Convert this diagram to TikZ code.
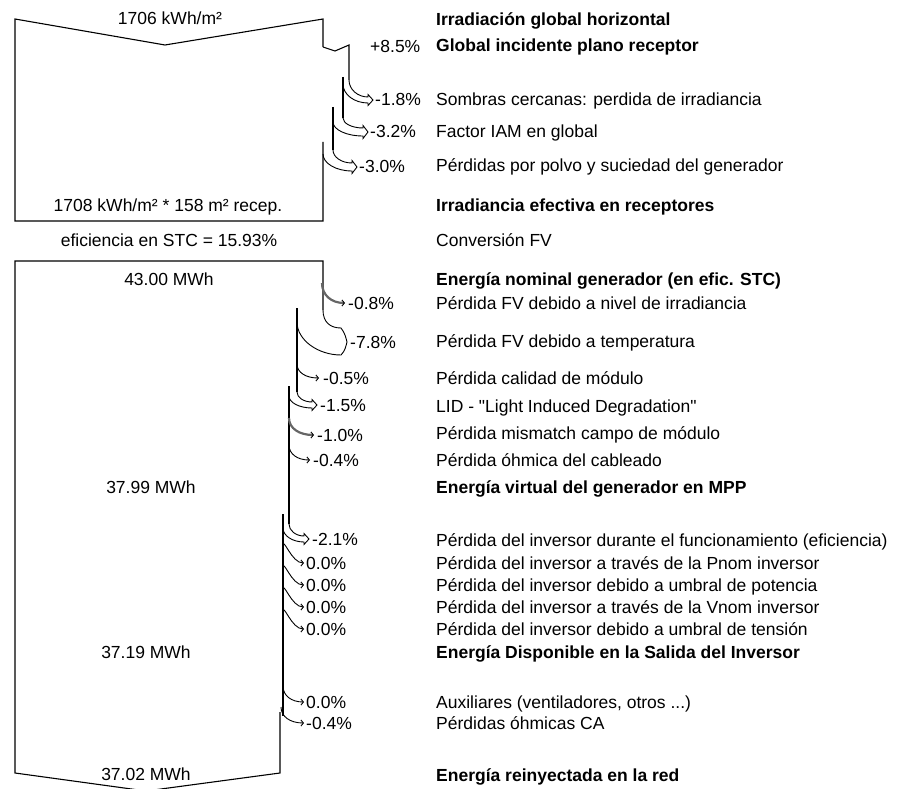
\documentclass[tikz,border=0pt]{standalone}
\usepackage{fontspec}
\setmainfont{Liberation Sans}
\newfontfamily\rawq{Liberation Sans}
\usetikzlibrary{arrows.meta}
\newcommand\hollowarrow[7]{% xold xnew ys xt yt w d
  \pgfmathsetmacro\hxb{#4-5}%
  \pgfmathsetmacro\hya{#3+0.55*(#5-#6-#3)}%
  \pgfmathsetmacro\hxa{\hxb-0.55*(\hxb-#1)}%
  \pgfmathsetmacro\hyc{#3+#7+0.55*(#5+#6-#3-#7)}%
  \pgfmathsetmacro\hxc{\hxb-0.55*(\hxb-#2)}%
  \draw[arr] (#1,#3) .. controls (#1,\hya) and (\hxa,#5-#6) .. (\hxb,#5-#6) -- (\hxb,#5-#6-2.5) -- (#4,#5) -- (\hxb,#5+#6+2.5) -- (\hxb,#5+#6) .. controls (\hxc,#5+#6) and (#2,\hyc) .. (#2,#3+#7);
}
\newcommand\curvearrow[5]{% x ys xt yt style
  \draw[#5] (#1,#2) .. controls (#1,{#2+0.6*(#4-#2)}) and ({#3-0.6*(#3-#1)},#4) .. (#3,#4);
}
\begin{document}
\begin{tikzpicture}[x=1pt,y=-1pt,
  edge/.style={line width=1.1pt, line join=miter},
  arr/.style={line width=0.9pt},
  single/.style={line width=0.9pt, -{Straight Barb[length=2.5pt,width=6pt,line width=0.9pt]}},
  hatch/.style={line width=2.2pt, black!60, -{Straight Barb[length=2.5pt,width=6pt,line width=0.9pt,black]}},
  txt/.style={anchor=base west, inner sep=0pt, font=\fontsize{17.5}{20}\selectfont},
  txtb/.style={anchor=base west, inner sep=0pt, font=\fontsize{17.5}{20}\selectfont\bfseries},
  pct/.style={anchor=base west, inner sep=0pt, font=\fontsize{17.5}{20}\selectfont},
  val/.style={anchor=base, inner sep=0pt, font=\fontsize{17.5}{20}\selectfont},
]
\useasboundingbox (0,0) rectangle (898,789);

% ---------- top block ----------
\draw[edge] (323,47) -- (323,19) -- (165,45) -- (15,19) -- (15,221) -- (323,221) -- (323,142);
\draw[edge] (323,47) -- (335,51) -- (349,45) -- (349,80);
\draw[edge] (343,77) -- (343,118);
\draw[edge] (333,107) -- (333,150);
\hollowarrow{349}{343}{80}{373}{100}{3}{4}
\hollowarrow{343}{333}{118}{368}{132}{4}{4}
\hollowarrow{333}{323}{150}{357}{167}{4}{4}

% ---------- bottom block ----------
\draw[edge] (323,310) -- (323,261) -- (15,261) -- (15,773) -- (146,791) -- (280,773) -- (280,712);
\draw[edge] (297,308) -- (297,392);
\draw[edge] (289,386) -- (289,524);
\draw[edge] (283,514) -- (283,716);
\curvearrow{322}{283}{345}{303}{hatch}
\draw[arr] (323,310) .. controls (323,322) and (330,328) .. (341,328) .. controls (345,333) and (346,338) .. (347,342) .. controls (346,346) and (345,351) .. (341,355) .. controls (318,355) and (297,340) .. (297,322);
\curvearrow{297}{364}{319}{378}{single}
\hollowarrow{297}{289}{392}{317}{405}{3}{4}
\curvearrow{289}{418}{314}{435}{hatch}
\curvearrow{289}{445}{310}{460}{single}
\hollowarrow{289}{283}{524}{309}{539}{3}{4}
\foreach \yy in {563,585,607,629} { \curvearrow{283}{\yy-17}{304}{\yy}{single} }
\curvearrow{283}{686}{304}{702}{single}
\curvearrow{281}{707}{304}{723}{single}

% ---------- values ----------
\node[val] (v1) at (170,25) {1706 kWh/m²};
\node[val] (v2) at (168,212) {1708 kWh/m² * 158 m² recep.};
\node[val] (v3) at (169,247) {eficiencia en STC = 15.93\%};
\node[val] (v4) at (169,285) {43.00 MWh};
\node[val] (v5) at (151,493) {37.99 MWh};
\node[val] (v6) at (146,658) {37.19 MWh};
\node[val] (v7) at (146,780) {37.02 MWh};

% ---------- percentages ----------
\node[pct] (p1) at (370,53) {+8.5\%};
\node[pct] (p2) at (375,106) {-1.8\%};
\node[pct] (p3) at (370,138) {-3.2\%};
\node[pct] (p4) at (359,173) {-3.0\%};
\node[pct] (p5) at (348,309) {-0.8\%};
\node[pct] (p6) at (350,348) {-7.8\%};
\node[pct] (p7) at (323,384) {-0.5\%};
\node[pct] (p8) at (320,411) {-1.5\%};
\node[pct] (p9) at (317,441) {-1.0\%};
\node[pct] (p10) at (313,466) {-0.4\%};
\node[pct] (p11) at (312,545) {-2.1\%};
\node[pct] (p12) at (306,569) {0.0\%};
\node[pct] (p13) at (306,591) {0.0\%};
\node[pct] (p14) at (306,613) {0.0\%};
\node[pct] (p15) at (306,635) {0.0\%};
\node[pct] (p16) at (306,708) {0.0\%};
\node[pct] (p17) at (306,729) {-0.4\%};

% ---------- descriptions ----------
\node[txtb] (t1) at (436,26) {Irradiación global horizontal};
\node[txtb] (t2) at (436,52) {Global incidente plano receptor};
\node[txt] (t3) at (436,106) {Sombras cercanas: perdida de irradiancia};
\node[txt] (t4) at (436,138) {Factor IAM en global};
\node[txt] (t5) at (436,172) {Pérdidas por polvo y suciedad del generador};
\node[txtb] (t6) at (436,212) {Irradiancia efectiva en receptores};
\node[txt] (t7) at (436,247) {Conversión FV};
\node[txtb] (t8) at (436,286) {Energía nominal generador (en efic. STC)};
\node[txt] (t9) at (436,309) {Pérdida FV debido a nivel de irradiancia};
\node[txt] (t10) at (436,347) {Pérdida FV debido a temperatura};
\node[txt] (t11) at (436,384) {Pérdida calidad de módulo};
\node[txt] (t12) at (436,412) {LID - {\rawq"}Light Induced Degradation{\rawq"}};
\node[txt] (t13) at (436,439) {Pérdida mismatch campo de módulo};
\node[txt] (t14) at (436,466) {Pérdida óhmica del cableado};
\node[txtb] (t15) at (436,493) {Energía virtual del generador en MPP};
\node[txt] (t16) at (436,546) {Pérdida del inversor durante el funcionamiento (eficiencia)};
\node[txt] (t17) at (436,569) {Pérdida del inversor a través de la Pnom inversor};
\node[txt] (t18) at (436,591) {Pérdida del inversor debido a umbral de potencia};
\node[txt] (t19) at (436,613) {Pérdida del inversor a través de la Vnom inversor};
\node[txt] (t20) at (436,635) {Pérdida del inversor debido a umbral de tensión};
\node[txtb] (t21) at (436,658) {Energía Disponible en la Salida del Inversor};
\node[txt] (t22) at (436,708) {Auxiliares (ventiladores, otros ...)};
\node[txt] (t23) at (436,729) {Pérdidas óhmicas CA};
\node[txtb] (t24) at (436,781) {Energía reinyectada en la red};
\end{tikzpicture}
\end{document}
